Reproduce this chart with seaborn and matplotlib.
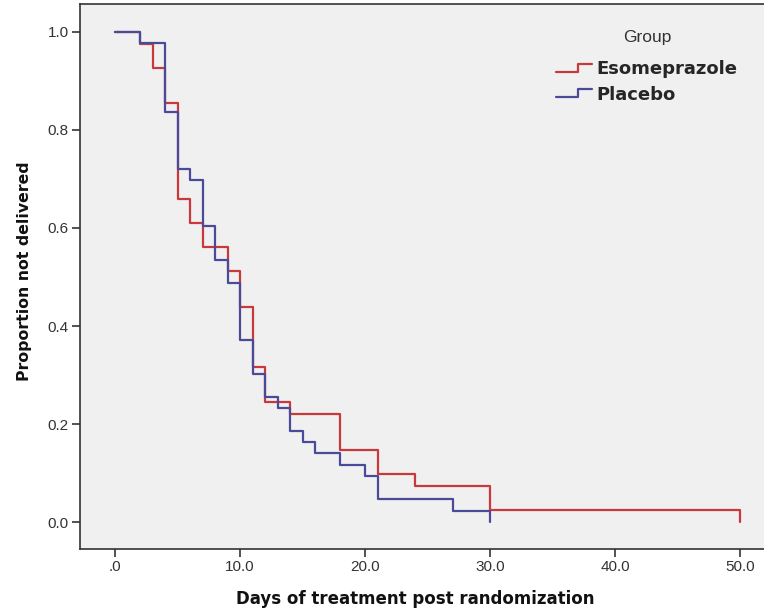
import matplotlib
matplotlib.use("Agg")
import matplotlib.pyplot as plt
from matplotlib.legend_handler import HandlerBase
from matplotlib.lines import Line2D
from matplotlib.ticker import FuncFormatter
import seaborn as sns
import pandas as pd

# Kaplan-Meier steps
eso_days = [0, 2, 3, 4, 5, 6, 7, 9, 10, 11, 12, 14, 18, 21, 24, 30, 50]
eso_prop = [1.0, 0.976, 0.927, 0.854, 0.659, 0.610, 0.561, 0.512, 0.439,
            0.317, 0.244, 0.220, 0.146, 0.098, 0.073, 0.024, 0.0]
pla_days = [0, 2, 4, 5, 6, 7, 8, 9, 10, 11, 12, 13, 14, 15, 16, 18, 20, 21, 27, 30]
pla_prop = [1.0, 0.977, 0.837, 0.721, 0.698, 0.605, 0.535, 0.488, 0.372, 0.302,
            0.256, 0.233, 0.186, 0.163, 0.140, 0.116, 0.093, 0.047, 0.023, 0.0]
groups = ["Esomeprazole", "Placebo"]
colors = {"Esomeprazole": "#c8393c", "Placebo": "#4a4a98"}
x_ticks = [0, 10, 20, 30, 40, 50]
y_ticks = [0.0, 0.2, 0.4, 0.6, 0.8, 1.0]

df = pd.concat([
    pd.DataFrame({"days": eso_days, "prop": eso_prop, "group": groups[0]}),
    pd.DataFrame({"days": pla_days, "prop": pla_prop, "group": groups[1]}),
], ignore_index=True)

sns.set_style("ticks")
plt.rcParams["font.family"] = ["Liberation Sans", "DejaVu Sans"]
bold_font = {"family": "DejaVu Sans", "weight": "bold"}


class StepHandler(HandlerBase):
    # legend key drawn as a little step, like the SPSS output
    def create_artists(self, legend, orig_handle, xdescent, ydescent,
                       width, height, fontsize, trans):
        x0 = -xdescent
        lo = -ydescent + height * 0.2
        hi = -ydescent + height * 0.8
        xs = [x0, x0 + 0.62 * width, x0 + 0.62 * width, x0 + width]
        ys = [lo, lo, hi, hi]
        line = Line2D(xs, ys, color=orig_handle.get_color(),
                      linewidth=orig_handle.get_linewidth())
        line.set_transform(trans)
        return [line]


W, H = 764, 613
fig = plt.figure(figsize=(W / 100, H / 100), dpi=100)
ax = fig.add_axes([80 / W, 64 / H, 686 / W, 545 / H])
ax.set_facecolor("#f0f0f0")

sns.lineplot(data=df, x="days", y="prop", hue="group", palette=colors,
             estimator=None, sort=False, drawstyle="steps-post",
             linewidth=1.6, legend=False, ax=ax)

ax.set_xlim(-2.8, 52.08)
ax.set_ylim(-0.055, 1.057)
ax.set_xticks(x_ticks)
ax.set_yticks(y_ticks)
ax.xaxis.set_major_formatter(FuncFormatter(lambda v, p: ".0" if v == 0 else f"{v:.1f}"))
ax.yaxis.set_major_formatter(FuncFormatter(lambda v, p: f"{v:.1f}"))
ax.tick_params(axis="both", length=6, width=1.2, color="#333333",
               labelsize=11, labelcolor="#333333", pad=2)

for side in ["left", "bottom", "top"]:
    ax.spines[side].set_color("#333333")
    ax.spines[side].set_linewidth(1.2)
ax.spines["right"].set_visible(False)
ax.spines["top"].set_visible(True)

ax.set_xlabel("Days of treatment post randomization", fontsize=12,
              fontdict=bold_font, color="#111111")
ax.set_ylabel("Proportion not delivered", fontsize=11.3,
              fontdict=bold_font, color="#111111")
ax.xaxis.set_label_coords(0.488, -0.075)
ax.yaxis.set_label_coords(-0.070, 0.51)

handles = [Line2D([], [], color=colors[g], linewidth=1.6) for g in groups]
leg = ax.legend(handles, groups, title="Group", loc="upper left",
                bbox_to_anchor=(556 / W, 1 - 30 / H), bbox_transform=fig.transFigure,
                frameon=False, prop={"size": 13, "weight": "bold", "family": "DejaVu Sans"},
                title_fontproperties={"size": 12.5, "family": "Liberation Sans"},
                handlelength=2.0, handletextpad=0.25, labelspacing=0.4,
                borderpad=0, borderaxespad=0,
                handler_map={Line2D: StepHandler()})
leg.get_title().set_color("#333333")
leg._legend_box.sep = 11

fig.savefig("out.png", dpi=100)
